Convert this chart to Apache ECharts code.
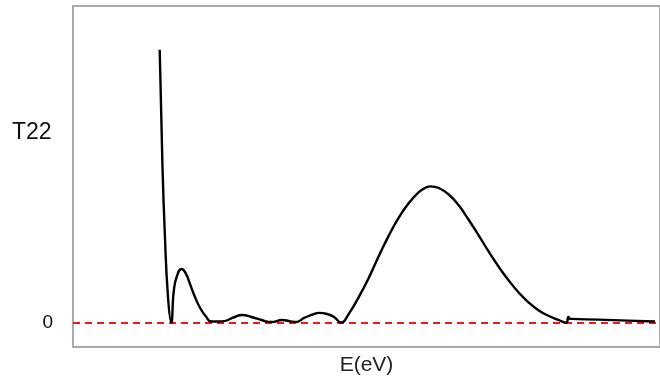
<!DOCTYPE html>
<html>
<head>
<meta charset="utf-8">
<script src="https://cdn.jsdelivr.net/npm/echarts@6/dist/echarts.min.js"></script>
<style>
  html, body { margin: 0; padding: 0; background: #fff; }
  #chart { width: 660px; height: 381px; }
</style>
</head>
<body>
<div id="chart"></div>
<script>
// Photon energy samples (arbitrary units along the E axis)
const energy = [
  1.482, 1.528, 1.567, 1.624, 1.681, 1.721, 1.772, 1.857, 1.925, 1.993,
  2.078, 2.164, 2.266, 2.368, 2.470, 2.589, 2.726, 2.896, 3.049, 3.220,
  3.390, 3.578, 3.697, 3.816, 3.952, 4.089, 4.208, 4.344, 4.463, 4.583,
  4.719, 4.889, 5.060, 5.230, 5.400, 5.571, 5.741, 5.911, 6.014, 6.116,
  6.252, 6.422, 6.593, 6.763, 6.934, 7.104, 7.274, 7.445, 7.615, 7.785,
  7.956, 8.126, 8.296, 8.433, 8.467, 8.501, 8.978, 9.489, 9.949
];
// Transmission coefficient T22 at each energy
const t22 = [
  1.1375, 0.667, 0.3875, 0.108, 0.002, 0.129, 0.192, 0.225, 0.208, 0.167,
  0.1125, 0.0667, 0.029, 0.006, 0.006, 0.008, 0.021, 0.033, 0.025, 0.0125,
  0.004, 0.0125, 0.008, 0.004, 0.021, 0.035, 0.042, 0.0375, 0.025, 0.002,
  0.040, 0.110, 0.190, 0.280, 0.365, 0.440, 0.500, 0.545, 0.562, 0.569,
  0.562, 0.535, 0.490, 0.430, 0.365, 0.298, 0.235, 0.178, 0.128, 0.086,
  0.053, 0.030, 0.013, 0.001, 0.025, 0.017, 0.014, 0.010, 0.006
];
// Zero reference level
const zeroLevel = [[0, 0], [10.034, 0]];
const yTickLabels = ['0'];

const chart = echarts.init(document.getElementById('chart'), null, { renderer: 'canvas' });
const fontFamily = '"Liberation Sans", Arial, Helvetica, sans-serif';

chart.setOption({
  animation: false,
  backgroundColor: '#ffffff',
  grid: {
    left: 73, right: -2, top: 6, bottom: 34,
    show: true, borderColor: '#8e8e8e', borderWidth: 1.5, backgroundColor: 'transparent'
  },
  xAxis: {
    type: 'value', min: 0, max: 10.034,
    name: 'E(eV)', nameLocation: 'middle', nameGap: 8,
    nameTextStyle: { fontFamily, fontSize: 21, color: '#222', verticalAlign: 'top' },
    axisLine: { show: false }, axisTick: { show: false },
    axisLabel: { show: false }, splitLine: { show: false }
  },
  yAxis: {
    type: 'value', min: -0.1, max: 1.32, interval: 0.1,
    axisLine: { show: false }, axisTick: { show: false }, splitLine: { show: false },
    axisLabel: {
      margin: 20, fontFamily, fontSize: 19, color: '#0a0a14', padding: [3, 0, 0, 0],
      formatter: v => (Math.abs(v) < 1e-9 ? yTickLabels[0] : '')
    }
  },
  graphic: [{
    type: 'text', left: 12, top: 121,
    style: { text: 'T22', font: '23px ' + fontFamily, fill: '#111' }
  }],
  series: [
    {
      type: 'line', data: zeroLevel, symbol: 'none', z: 2,
      lineStyle: { color: '#fa1414', width: 2, type: [7, 5] }
    },
    {
      type: 'line', data: energy.map((e, i) => [e, t22[i]]),
      symbol: 'none', smooth: 0.5, z: 3,
      lineStyle: { color: '#000', width: 2.4 }
    }
  ]
});
</script>
</body>
</html>
